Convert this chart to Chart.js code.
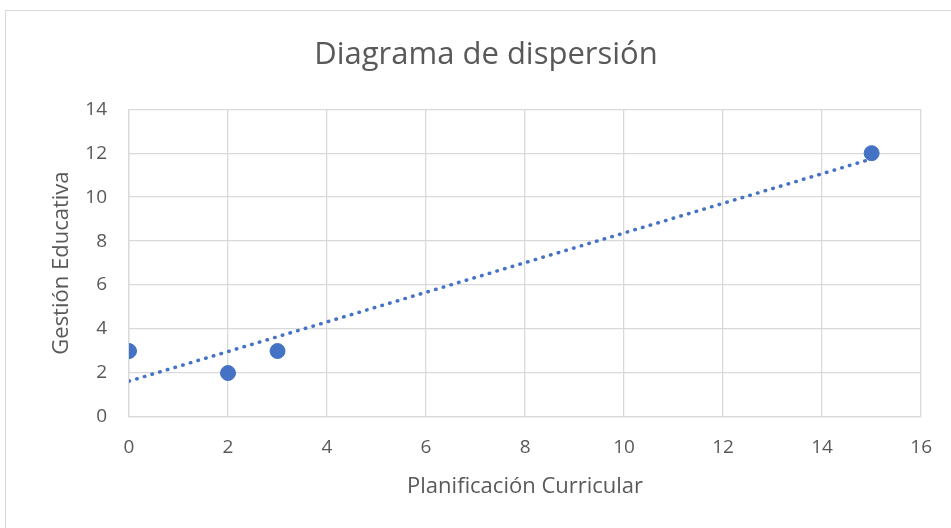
<!DOCTYPE html>
<html>
<head>
<meta charset="utf-8">
<script src="https://cdn.jsdelivr.net/npm/chart.js@4/dist/chart.umd.min.js"></script>
<style>
  html, body { margin: 0; padding: 0; background: #fff; overflow: hidden; }
  #wrap { position: relative; width: 951px; height: 528px; }
  #frame { position: absolute; left: 5px; top: 10px; width: 960px; height: 540px; border: 1px solid #d9d9d9; }
  canvas { position: absolute; left: 0; top: 0; }
</style>
</head>
<body>
<div id="wrap">
  <div id="frame"></div>
  <canvas id="chart" width="951" height="528"></canvas>
</div>
<script>
// datos
const planificacion = [0, 2, 3, 15];
const gestion = [3, 2, 3, 12];
// línea de tendencia (extremos leídos)
const trendX = [0, 15];
const trendY = [1.63, 11.74];

const textColor = '#595959';
const gridColor = '#d9d9d9';
const fontFamily = '"Open Sans", "Noto Sans", sans-serif';

const ctx = document.getElementById('chart');
new Chart(ctx, {
  type: 'scatter',
  data: {
    datasets: [
      {
        label: 'Gestión Educativa',
        data: planificacion.map((x, i) => ({ x, y: gestion[i] })),
        backgroundColor: '#4472C4',
        borderColor: '#4472C4',
        pointRadius: 7.5,
        pointHoverRadius: 7.5,
        order: 1
      },
      {
        type: 'line',
        label: 'Tendencia',
        data: trendX.map((x, i) => ({ x, y: trendY[i] })),
        borderColor: '#4472C4',
        borderWidth: 3.5,
        borderDash: [0.5, 7.5],
        borderCapStyle: 'round',
        pointRadius: 0,
        fill: false,
        order: 2
      }
    ]
  },
  options: {
    responsive: false,
    animation: false,
    layout: { padding: { left: 45, right: 24, top: 0, bottom: 24 } },
    plugins: {
      legend: { display: false },
      tooltip: { enabled: false },
      title: {
        display: true,
        text: 'Diagrama de dispersión',
        color: textColor,
        font: { family: fontFamily, size: 31, weight: 'normal' },
        padding: { top: 37, bottom: 35 }
      }
    },
    scales: {
      x: {
        type: 'linear',
        min: 0,
        max: 16,
        ticks: {
          stepSize: 2,
          color: textColor,
          font: { family: fontFamily, size: 19 },
          padding: 19
        },
        grid: { color: gridColor, lineWidth: 1.3, drawTicks: false },
        border: { color: gridColor, width: 1.3 },
        title: {
          display: true,
          text: 'Planificación Curricular',
          color: textColor,
          font: { family: fontFamily, size: 22 }
        },
        afterFit: (scale) => { scale.height = 87; }
      },
      y: {
        min: 0,
        max: 14,
        ticks: {
          stepSize: 2,
          color: textColor,
          font: { family: fontFamily, size: 19 },
          padding: 22
        },
        grid: { color: gridColor, lineWidth: 1.3, drawTicks: false },
        border: { color: gridColor, width: 1.3 },
        title: {
          display: true,
          text: 'Gestión Educativa',
          color: textColor,
          font: { family: fontFamily, size: 22 }
        },
        afterFit: (scale) => { scale.width = 84; }
      }
    }
  }
});
</script>
</body>
</html>
